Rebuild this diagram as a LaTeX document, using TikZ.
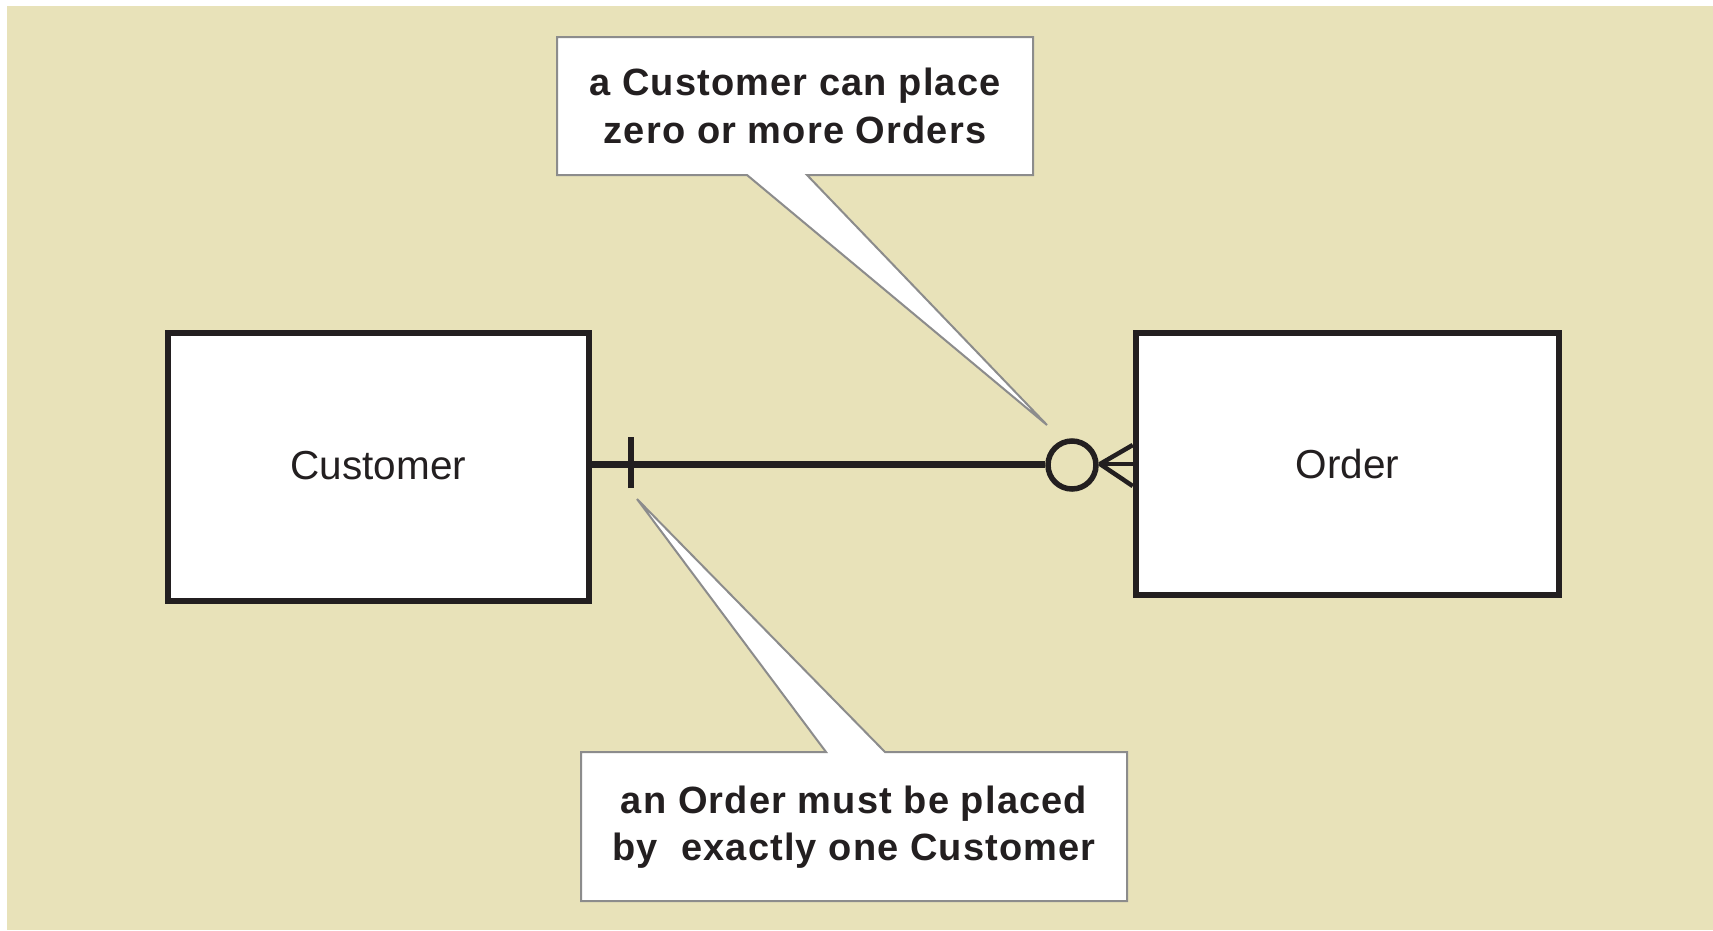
\documentclass[tikz,border=0pt]{standalone}
\usepackage{fontspec}
\setmainfont{Liberation Sans}
\newfontfamily\callfont{Liberation Sans}[LetterSpace=3]
\definecolor{bgbeige}{RGB}{232,226,185}
\definecolor{inkdark}{RGB}{35,31,32}
\definecolor{callgray}{RGB}{140,140,140}
\begin{document}
\begin{tikzpicture}[x=1pt,y=-1pt,
  entity/.style={draw=inkdark,line width=6.5pt,fill=white,inner sep=0pt,
    font=\fontsize{40.5}{46}\selectfont,text=inkdark},
  callout/.style={draw=callgray,line width=2pt,fill=white,line join=miter},
  calltext/.style={align=center,inner sep=0pt,text=inkdark,
    font=\callfont\bfseries\fontsize{38}{47.5}\selectfont},
  rel/.style={draw=inkdark,line width=7pt},
  crow/.style={draw=inkdark,line width=4.5pt}]
\useasboundingbox (0,0) rectangle (1713,930);
\fill[bgbeige] (7,6) rectangle (1713,930);

% entities
\node[entity,minimum width=421pt,minimum height=268pt] (cust) at (378.5,467) {\raisebox{3pt}{Customer}};
\node[entity,minimum width=423pt,minimum height=262pt] (ord) at (1347.5,464) {Order};

% optional-many end
\node[circle,draw=inkdark,line width=5.5pt,minimum size=48pt,inner sep=0pt] (circ) at (1072,465) {};
\coordinate (foot) at (1100,464);

% relationship line
\draw[rel] (cust.east |- 0,464) -- (circ.west |- 0,464);
\draw[crow] (circ.east |- 0,464) -- (ord.west |- 0,464);
\draw[crow] (foot) -- (ord.west |- 0,445);
\draw[crow] (foot) -- (ord.west |- 0,486);
% one-and-only-one tick
\coordinate (tick) at (631,464);
\draw[rel,line width=6.5pt] ([yshift=-24pt]tick) -- ([yshift=27pt]tick);

% callouts
\coordinate (tipA) at (1047,425);
\coordinate (tipB) at (637,499);
\draw[callout] (557,37) -- (1033,37) -- (1033,175) -- (807,175) -- (tipA)
  -- (747,175) -- (557,175) -- cycle;
\node[calltext] (noteA) at (795,106) {a Customer can place\\zero or more Orders};
\draw[callout] (581,752) -- (826,752) -- (tipB) -- (885,752) -- (1127,752)
  -- (1127,901) -- (581,901) -- cycle;
\node[calltext] (noteB) at (854,827) {an Order must be placed\\by\ \ exactly one Customer};
\end{tikzpicture}
\end{document}
